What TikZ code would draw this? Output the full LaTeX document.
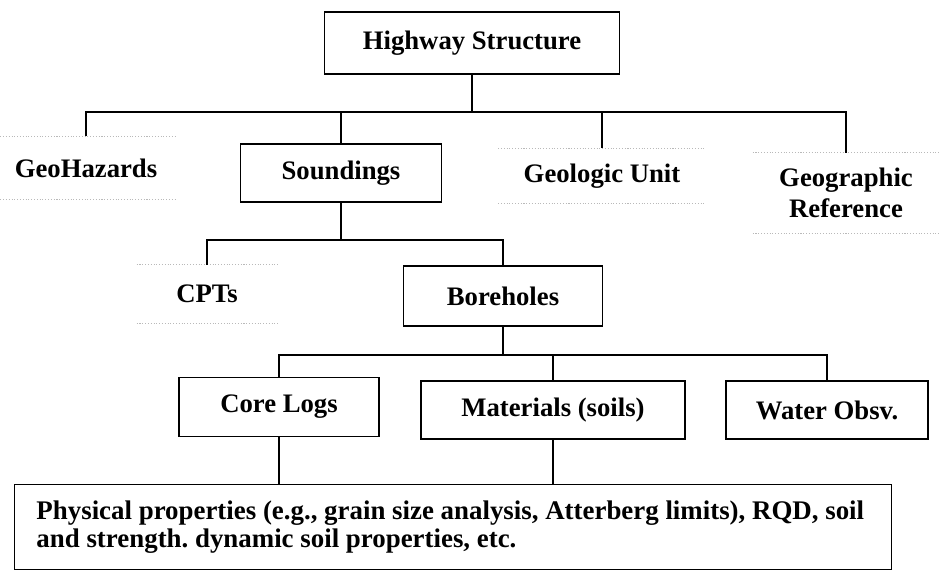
\documentclass[tikz,border=0pt]{standalone}
\usepackage{fontspec}
\setmainfont{Liberation Serif}
\usepackage{tikz}
\usetikzlibrary{shapes.geometric, arrows}
\frenchspacing
\tikzstyle{entity} = [rectangle, text centered, draw=black, line width=1.1pt, font=\bfseries\fontsize{15.2}{17.6}\selectfont]
\tikzstyle{faint} = [rectangle, align=center, font=\bfseries\fontsize{15.2}{17.6}\selectfont]
\tikzstyle{detail} = [rectangle, align=flush left, draw=black, line width=1.1pt, text width=16.66cm, inner xsep=0.44cm, minimum height=1.7cm, font=\bfseries\fontsize{15.3}{16}\selectfont]
\tikzstyle{ghost} = [gray!55, densely dotted, line width=0.6pt]
\tikzstyle{link} = [line width=1.1pt]

\begin{document}
\begin{tikzpicture}[node distance=2cm]
\useasboundingbox (-9.44,0.86) rectangle (9.48,-10.54);

\node (hw) [entity, minimum width=5.9cm, minimum height=1.24cm] {Highway Structure};

\node (snd) [entity, below of=hw, xshift=-2.62cm, yshift=-0.6cm, minimum width=4.02cm, minimum height=1.16cm] {Soundings};
\node (geo) [faint, left of=snd, xshift=-3.1cm, yshift=0.1cm, minimum width=3.64cm, minimum height=1.26cm] {GeoHazards};
\node (gunit) [faint, right of=snd, xshift=3.22cm, yshift=-0.06cm, minimum width=4.14cm, minimum height=1.1cm] {Geologic Unit};
\node (gref) [faint, right of=gunit, xshift=2.88cm, yshift=-0.34cm, minimum width=3.72cm, minimum height=1.6cm] {Geographic\\Reference};

\node (bh) [entity, below of=snd, xshift=3.24cm, yshift=-0.46cm, minimum width=3.98cm, minimum height=1.2cm] {Boreholes};
\node (cpt) [faint, left of=bh, xshift=-3.92cm, yshift=0.04cm, minimum width=2.8cm, minimum height=1.16cm] {CPTs};

\node (mat) [entity, below of=bh, xshift=1cm, yshift=-0.28cm, minimum width=5.28cm, minimum height=1.16cm] {Materials (soils)};
\node (core) [entity, left of=mat, xshift=-3.48cm, yshift=0.06cm, minimum width=4cm, minimum height=1.18cm] {Core Logs};
\node (wat) [entity, right of=mat, xshift=3.48cm, minimum width=4.04cm, minimum height=1.16cm] {Water Obsv.};

\node (props) [detail, below of=mat, xshift=-2cm, yshift=-0.34cm] {Physical properties (e.g., grain size analysis, Atterberg limits), RQD, soil\\and strength. dynamic soil properties, etc.};

\node (bus1) [coordinate, below of=hw, yshift=0.62cm] {};
\node (bus2) [coordinate, below of=snd, yshift=0.66cm] {};
\node (bus3) [coordinate, below of=bh, yshift=0.82cm] {};

\draw [ghost] (geo.north west) -- (geo.north east);
\draw [ghost] (geo.south west) -- (geo.south east);
\draw [ghost] (gunit.north west) -- (gunit.north east);
\draw [ghost] (gunit.south west) -- (gunit.south east);
\draw [ghost] (gref.north west) -- (gref.north east);
\draw [ghost] (gref.south west) -- (gref.south east);
\draw [ghost] (cpt.north west) -- (cpt.north east);
\draw [ghost] (cpt.south west) -- (cpt.south east);

\draw [link] (hw.south) -- (hw.south |- bus1);
\draw [link] (geo.north) -- (geo.north |- bus1) -- (gref.north |- bus1) -- (gref.north);
\draw [link] (snd.north) -- (snd.north |- bus1);
\draw [link] (gunit.north) -- (gunit.north |- bus1);

\draw [link] (snd.south) -- (snd.south |- bus2);
\draw [link] (cpt.north) -- (cpt.north |- bus2) -- (bh.north |- bus2) -- (bh.north);

\draw [link] (bh.south) -- (bh.south |- bus3);
\draw [link] (core.north) -- (core.north |- bus3) -- (wat.north |- bus3) -- (wat.north);
\draw [link] (mat.north) -- (mat.north |- bus3);

\draw [link] (core.south) -- (core.south |- props.north);
\draw [link] (mat.south) -- (mat.south |- props.north);

\end{tikzpicture}
\end{document}
